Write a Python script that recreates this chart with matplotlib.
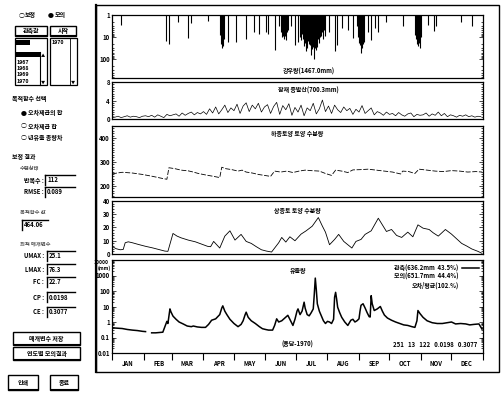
import numpy as np
import matplotlib
matplotlib.use("Agg")
import matplotlib.pyplot as plt
from matplotlib.patches import Rectangle
from matplotlib.lines import Line2D
from matplotlib.ticker import MultipleLocator, FixedLocator, NullFormatter

plt.rcParams['font.family'] = ['Noto Sans CJK KR', 'DejaVu Sans']
plt.rcParams['font.weight'] = 'bold'

W, H = 501, 393
fs = 4.3

# ---- data (day of year, value) ----
months = ["JAN", "FEB", "MAR", "APR", "MAY", "JUN", "JUL", "AUG", "SEP", "OCT", "NOV", "DEC"]
month_start = [0, 31, 59, 90, 120, 151, 181, 212, 243, 273, 304, 334, 365]

rain_day = [9, 53, 56, 65, 75, 78, 94, 106, 107, 108, 109, 110, 114, 122, 132, 140, 145,
            152, 153, 160, 164, 166, 167, 168, 169, 170, 171, 172, 173, 176, 180, 183, 185,
            186, 187, 188, 189, 190, 191, 192, 193, 194, 195, 196, 197, 198, 199, 200, 201,
            202, 203, 204, 205, 206, 207, 208, 209, 210, 213, 219, 221, 226, 232, 237, 241,
            242, 243, 244, 245, 246, 247, 248, 252, 255, 259, 262, 270, 286, 298, 299, 300,
            301, 302, 303, 304, 311, 317, 319, 343, 354]
rain_mm = [2.7, 15, 20, 2.0, 11, 2.3, 1.9, 8, 20, 30, 25, 12, 16, 16, 12, 6, 7,
           6, 7, 37, 3, 6, 10, 8.5, 12, 9, 14, 6, 5, 3, 23, 16, 10,
           14, 7, 12, 25, 18, 44, 30, 15, 20, 22, 61, 35, 28, 100, 32, 40,
           27, 12, 18, 10, 9, 6, 12, 5, 8.5, 6, 44, 23, 4, 5, 11, 3,
           10, 18, 23, 52, 30, 20, 16, 6, 14, 4, 6, 2, 3.2, 8, 12, 20,
           25, 18, 32, 10, 2.7, 5.2, 3.2, 2, 3.2]

pet_val = [0.5, 0.4, 0.6, 0.3, 0.5, 0.7, 0.4, 0.6, 0.5, 0.3, 0.6,
           0.7, 0.5, 0.8, 0.4, 0.9, 0.6, 0.3, 1.0, 0.7,
           0.9, 1.1, 0.6, 1.3, 0.8, 1.2, 1.5, 0.9, 1.4, 1.1,
           1.6, 1.0, 2.2, 1.3, 2.6, 1.1, 2.0, 3.0, 1.4, 2.4,
           1.8, 3.2, 1.2, 2.8, 3.5, 1.6, 3.0, 2.2, 3.4, 1.5, 2.6,
           3.1, 1.2, 2.7, 3.6, 1.0, 2.9, 2.0, 3.3, 0.8, 2.5,
           1.5, 3.0, 0.7, 2.4, 1.8, 3.4, 1.1, 2.2, 4.1, 1.6,
           2.8, 1.2, 3.0, 2.0, 1.4, 2.6, 1.8, 2.3, 1.0, 2.1, 1.5,
           2.9, 1.2, 1.8, 2.4, 0.9, 1.6, 1.3, 0.8, 1.5, 1.0,
           1.2, 0.7, 1.4, 0.9, 0.6, 1.1, 1.3, 0.5, 1.0, 0.8,
           0.9, 1.3, 0.6, 1.1, 0.8, 1.5, 0.7, 1.2, 0.5, 0.9,
           0.7, 0.4, 0.8, 0.6, 0.9, 0.5, 0.7, 0.4, 0.6, 0.5]
pet_day = np.arange(len(pet_val)) * 3

lower_day = [0, 5, 10, 20, 30, 40, 50, 54, 56, 62, 68, 75, 80, 85, 92, 100, 106, 108, 112,
             118, 124, 128, 132, 138, 144, 150, 156, 160, 166, 172, 178, 184, 190, 196, 204,
             210, 216, 220, 226, 232, 237, 244, 252, 260, 268, 276, 284, 286, 292, 298, 302,
             310, 318, 326, 334, 342, 350, 358, 364]
lower_val = [250, 254, 257, 254, 248, 240, 231, 228, 276, 272, 266, 263, 258, 252, 246, 240,
             235, 278, 272, 268, 262, 266, 258, 254, 248, 244, 240, 262, 258, 262, 256, 262,
             266, 264, 262, 252, 244, 266, 262, 256, 267, 268, 270, 266, 262, 258, 250, 262,
             260, 252, 270, 266, 262, 260, 264, 262, 258, 260, 258]

upper_day = [0, 4, 8, 11, 13, 16, 20, 26, 33, 40, 46, 52, 55, 60, 64, 68, 75, 82, 88, 94,
             97, 100, 103, 106, 111, 116, 121, 127, 132, 137, 142, 147, 152, 157, 164, 167,
             171, 175, 180, 186, 191, 197, 203, 207, 210, 214, 219, 223, 228, 236, 240, 245,
             249, 255, 262, 266, 270, 275, 280, 285, 291, 296, 301, 306, 312, 316, 321, 328,
             334, 339, 344, 349, 354, 360, 364]
upper_val = [5.8, 4.0, 3.2, 3.4, 8.5, 9.2, 8.5, 7.2, 5.8, 4.6, 3.4, 2.2, 2.0, 15.5, 13.5,
             12.2, 10.5, 9.2, 7.5, 5.8, 5.5, 9.5, 7.0, 4.5, 13.5, 17.5, 10.5, 14.8, 9.5, 8.0,
             5.5, 3.2, 2.2, 1.5, 8.5, 12.5, 9.0, 13.0, 10.0, 15.0, 17.5, 21.0, 27.5, 21.0,
             16.5, 7.0, 11.0, 14.8, 9.5, 4.5, 9.5, 11.0, 14.8, 17.5, 27.0, 22.0, 17.0, 18.5,
             14.0, 12.5, 16.5, 13.0, 22.0, 19.5, 18.5, 16.0, 13.5, 18.5, 15.0, 11.5, 8.0,
             6.0, 3.8, 2.0, 0.5]

flow_day = [0, 5, 10, 15, 20, 25, 30, 33, 36, 39, 43, 47, 50, 52, 54, 55, 57, 58, 60, 63,
            66, 70, 74, 78, 80, 84, 88, 92, 95, 98, 102, 106, 108, 109, 111, 113, 116, 120,
            124, 127, 129, 131, 132, 134, 137, 141, 145, 148, 151, 154, 158, 160, 162, 164,
            167, 170, 173, 175, 178, 180, 182, 183, 185, 187, 189, 190, 192, 194, 196, 198,
            199, 200, 201, 202, 204, 206, 208, 210, 212, 214, 216, 218, 219, 220, 221, 222,
            224, 226, 229, 232, 235, 237, 239, 241, 243, 244, 245, 247, 249, 251, 253, 254,
            255, 256, 258, 261, 264, 266, 268, 271, 275, 279, 283, 287, 291, 295, 298, 300,
            301, 303, 306, 310, 315, 320, 325, 330, 334, 338, 343, 348, 352, 356, 361, 364]
flow_obs = [0.42, 0.40, 0.38, 0.33, 0.30, 0.28, 0.25, 0.24, np.nan, 0.20, 0.20, 0.21, 0.22,
            0.5, 1.1, 0.8, 7, 4.5, 2.4, 1.5, 1.0, 0.75, 0.55, 0.5, 0.55, 0.48, 0.45, 0.45,
            0.7, 1.3, 1.6, 3, 8, 11, 5, 3, 1.5, 0.8, 0.5, 0.7, 1.2, 3, 4.3, 2, 1.2, 0.8,
            0.5, 0.37, 0.33, 0.30, 0.30, 0.6, 1.6, 1.0, 1.2, 1.8, 2.7, 1.5, 0.6, 1.5, 5, 7,
            3, 5, 19, 8, 3, 2.5, 4, 7, 60, 680, 120, 15, 5, 2.5, 1.2, 0.8, 1.1, 1.0, 0.8,
            1.5, 40, 82, 30, 9, 4, 2, 1.0, 0.6, 1.3, 1.5, 1.0, 1.2, 1.6, 5, 12, 15, 8, 4,
            2.2, 2.1, 50, 15, 5.5, 7, 10, 5, 2.8, 1.8, 1.3, 1.0, 0.8, 0.65, 0.6, 0.5, 0.45,
            1.2, 5.5, 3.5, 2, 1.2, 0.9, 0.8, 0.8, 0.9, 1.0, 0.75, 0.8, 0.75, 0.65, 0.7,
            0.75, 0.35]

legend_labels = ["관측(636.2mm  43.5%)", "모의(651.7mm  44.4%)", "오차/평균(102.%)"]

fig = plt.figure(figsize=(W / 100, H / 100), dpi=100)


def fx(x):
    return x / W


def fy(y):
    return 1 - y / H


def ftext(x, y, s, ha='left', size=fs, **kw):
    fig.text(fx(x), fy(y), s, ha=ha, va='center', fontsize=size, **kw)


def frect(x0, y0, x1, y1, fc='none', lw=0.7):
    fig.add_artist(Rectangle((fx(x0), fy(y1)), (x1 - x0) / W, (y1 - y0) / H,
                             transform=fig.transFigure, fc=fc, ec='black', lw=lw))


def fline(xs, ys, lw=0.8):
    fig.add_artist(Line2D([fx(v) for v in xs], [fy(v) for v in ys],
                          transform=fig.transFigure, color='black', lw=lw))


def button(x0, y0, x1, y1, s):
    frect(x0, y0, x1, y1, lw=1.0)
    fline([x0 + 1, x1 - 1], [y1 - 1, y1 - 1], lw=0.8)
    ftext((x0 + x1) / 2, (y0 + y1) / 2, s, ha='center')


def entry(x0, y, s, x1=72):
    fline([x0, x1 + 3], [y - 5, y - 5], lw=1.0)
    fline([x0, x0], [y - 5, y + 5], lw=1.0)
    ftext(x0 + 2, y, s)


def panel(y0, y1):
    ax = fig.add_axes([fx(112), fy(y1), (483 - 112) / W, (y1 - y0) / H])
    ax.set_xlim(0, 365)
    ax.set_xticks(month_start)
    ax.tick_params(axis='x', which='both', length=0, labelbottom=False)
    ax.tick_params(axis='y', which='both', direction='in', left=True, right=True,
                   labelsize=fs, pad=1.5, width=0.5)
    ax.tick_params(axis='y', which='major', length=3)
    ax.tick_params(axis='y', which='minor', length=1.5)
    for s in ax.spines.values():
        s.set_linewidth(0.9)
    return ax


# ---- main chart frame ----
frect(96, 5, 499, 372, lw=1.0)
fline([96, 96], [5, 372], lw=1.6)

# rainfall (inverted log)
ax1 = panel(15, 78)
ax1.set_yscale('log')
ax1.vlines(rain_day, 1, rain_mm, color='black', lw=0.8)
ax1.set_ylim(700, 1)
ax1.yaxis.set_major_locator(FixedLocator([1, 10, 100]))
ax1.set_yticklabels(["1", "10", "100"])
ax1.yaxis.set_minor_formatter(NullFormatter())
ax1.text(0.53, 0.04, "강우량(1467.0mm)", transform=ax1.transAxes, ha='center',
         va='bottom', fontsize=fs)

# potential evapotranspiration
ax2 = panel(82, 119)
ax2.plot(pet_day, pet_val, color='black', lw=0.5)
ax2.set_ylim(0, 8)
ax2.yaxis.set_major_locator(FixedLocator([0, 4, 8]))
ax2.yaxis.set_minor_locator(MultipleLocator(0.5))
ax2.text(0.53, 0.76, "잠재 증발산(700.3mm)", transform=ax2.transAxes, ha='center',
         va='center', fontsize=fs)

# lower soil moisture
ax3 = panel(126, 197)
ax3.plot(lower_day, lower_val, color='black', lw=0.6, ls=(0, (6, 2)))
ax3.set_ylim(154, 450)
ax3.yaxis.set_major_locator(FixedLocator([200, 300, 400]))
ax3.yaxis.set_minor_locator(MultipleLocator(10))
ax3.text(0.50, 0.89, "하층토양 토양 수분량", transform=ax3.transAxes, ha='center',
         va='center', fontsize=fs)

# upper soil moisture
ax4 = panel(201, 254)
ax4.plot(upper_day, upper_val, color='black', lw=0.6)
ax4.set_ylim(0, 40)
ax4.yaxis.set_major_locator(FixedLocator([0, 10, 20, 30, 40]))
ax4.yaxis.set_minor_locator(MultipleLocator(2))
ax4.text(0.50, 0.83, "상층토 토양 수분량", transform=ax4.transAxes, ha='center',
         va='center', fontsize=fs)

# runoff
ax5 = panel(260, 353)
ax5.set_yscale('log')
obs_line, = ax5.plot(flow_day, flow_obs, color='black', lw=1.1)
ax5.set_ylim(0.01, 10000)
ax5.yaxis.set_major_locator(FixedLocator([0.01, 0.1, 1, 10, 100, 1000]))
ax5.set_yticklabels(["0.01", "0.1", "1", "10", "100", "1000"])
ax5.yaxis.set_minor_formatter(NullFormatter())
ax5.tick_params(axis='x', which='major', direction='out', length=5, width=0.8, bottom=True)
ax5.xaxis.set_minor_locator(FixedLocator([m + 15 for m in month_start[:-1]]))
ax5.xaxis.set_minor_formatter(plt.FixedFormatter(months))
ax5.tick_params(axis='x', which='minor', length=0, labelbottom=True, labelsize=fs, pad=5)
ax5.text(0.50, 0.89, "유출량", transform=ax5.transAxes, ha='center', va='center', fontsize=fs)
ax5.text(0.50, 0.09, "(용담-1970)", transform=ax5.transAxes, ha='center', va='center',
         fontsize=fs)
ax5.text(0.87, 0.09, "251   13   122   0.0198   0.3077", transform=ax5.transAxes,
         ha='center', va='center', fontsize=fs)
blank = Line2D([], [], color='none')
ax5.legend([obs_line, blank, blank], legend_labels, loc='upper right', frameon=False,
           markerfirst=False, fontsize=fs, handlelength=2.8, labelspacing=0.25,
           borderaxespad=0.3, handletextpad=0.6)
fig.text(fx(109), fy(262.5), "10000", ha='right', va='center', fontsize=3.6)
fig.text(fx(104), fy(268.5), "(mm)", ha='center', va='center', fontsize=3.6)

# ---- left control panel ----
ftext(19, 15, "○")
ftext(25, 15, "보정")
ftext(48, 15, "●")
ftext(55, 15, "모의")
button(15, 26, 47, 36, "관측값")
button(50, 26, 76, 36, "시작")

frect(15, 38, 47, 85, lw=0.9)
frect(15, 40, 30, 45, fc='black', lw=0)
frect(15, 52, 40, 57, fc='black', lw=0)
fline([40, 40], [52, 85], lw=0.8)
ftext(41, 56, "▲", size=3)
ftext(41, 82, "▼", size=3)
for k, yr in enumerate(["1967", "1968", "1969", "1970"]):
    ftext(17, 62 + k * 6.5, yr, size=3.8)

frect(50, 38, 77, 85, lw=0.9)
ftext(52, 43, "1970", size=3.8)
fline([70, 70], [38, 85], lw=0.6)
ftext(71, 82, "▼", size=3)

ftext(12, 99, "목적함수 선택")
ftext(21, 113, "●")
ftext(28, 113, "오차제곱의 합")
ftext(21, 126, "○")
ftext(28, 126, "오차제곱 합")
ftext(21, 138, "○")
ftext(28, 138, "년유출 총량차")

ftext(12, 157, "보정 결과")
ftext(20, 169, "수렴상태", size=3.8, color='0.35')
ftext(44, 180, "반복수 :", ha='right')
entry(45, 180, "112")
ftext(44, 192, "RMSE :", ha='right')
entry(45, 192, "0.089")
ftext(20, 212, "목적함수 값", size=3.8, color='0.35')
entry(22, 225, "464.06", x1=45)
ftext(20, 244, "최적 매개변수", size=3.8, color='0.35')
params = [("UMAX", "25.1"), ("LMAX", "76.3"), ("FC", "22.7"), ("CP", "0.0198"), ("CE", "0.3077")]
for k, (name, val) in enumerate(params):
    yy = [256, 269, 282, 297, 312][k]
    ftext(44, yy, name + " :", ha='right')
    entry(47, yy, val)

button(13, 332, 80, 345, "매개변수 저장")
button(13, 347, 80, 360, "연도별 모의결과")
button(8, 375, 38, 390, "인쇄")
button(50, 375, 78, 390, "종료")

fig.savefig("out.png", dpi=100)
